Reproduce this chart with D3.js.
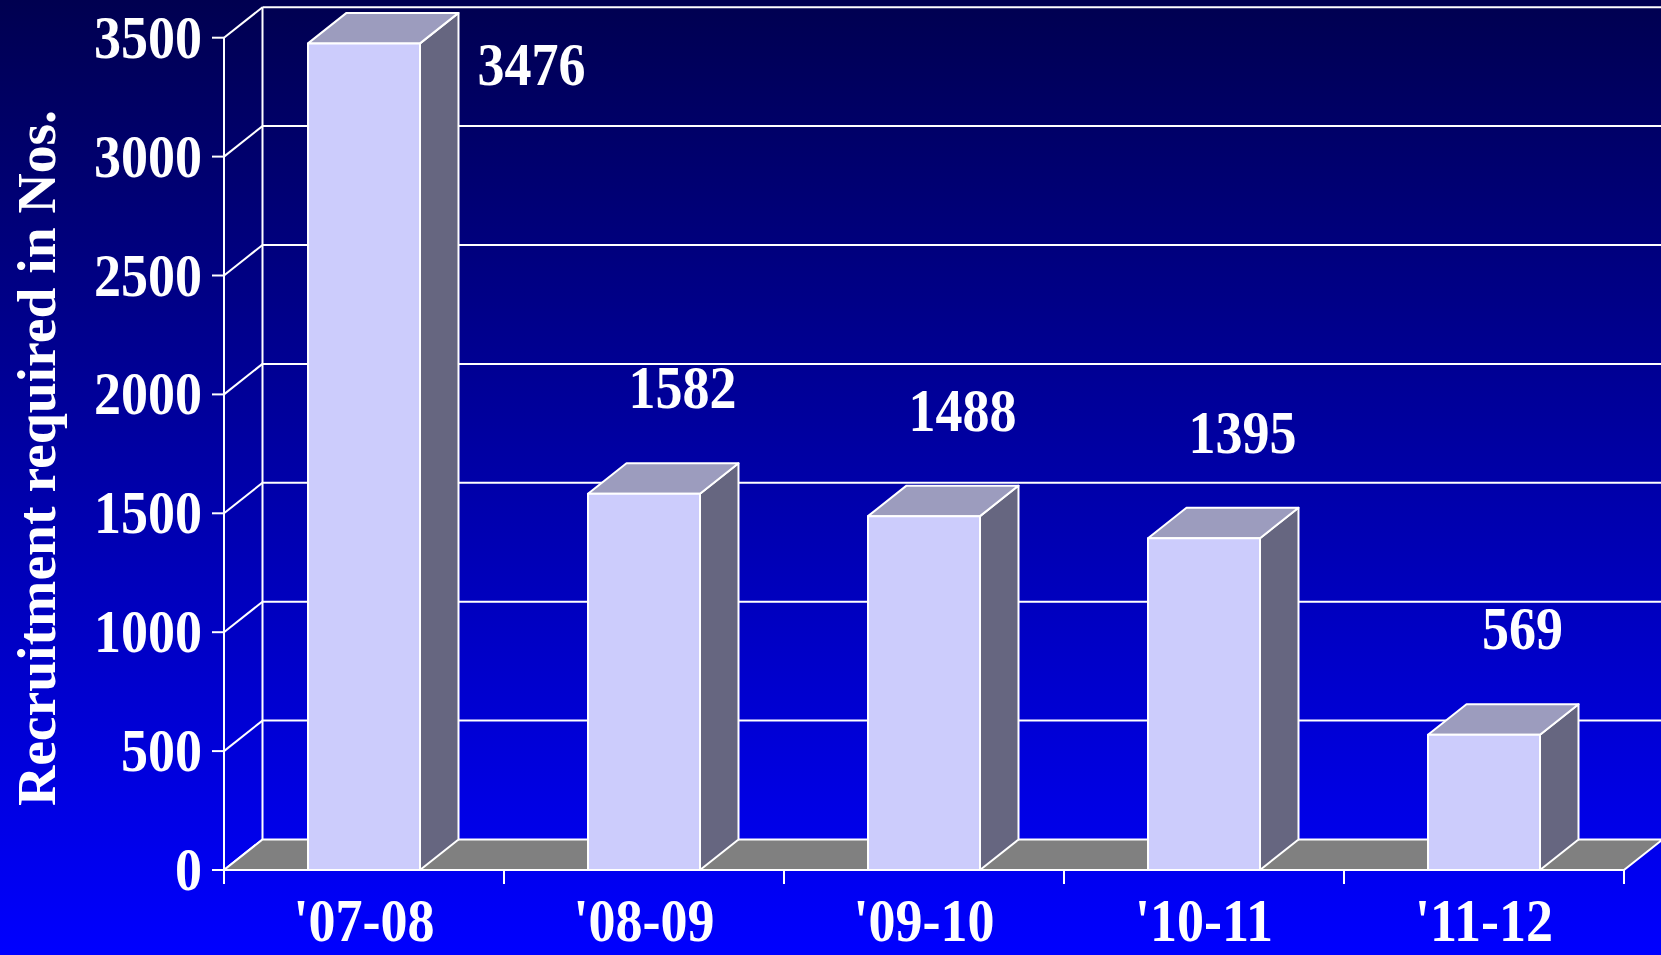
<!DOCTYPE html>
<html>
<head>
<meta charset="utf-8">
<script src="https://cdn.jsdelivr.net/npm/d3@7"></script>
<style>
  html, body { margin: 0; padding: 0; background: #000080; }
  svg { display: block; }
</style>
</head>
<body>
<script>
// Recruitment requirement by financial year
const categories = ["'07-08", "'08-09", "'09-10", "'10-11", "'11-12"];
const values = [3476, 1582, 1488, 1395, 569];
const yTicks = [0, 500, 1000, 1500, 2000, 2500, 3000, 3500];
const yTitle = "Recruitment required in Nos.";

const W = 1661, H = 955;
const FONT = "'Liberation Serif', 'Times New Roman', serif";
const STRETCH = 1.13;          // glyphs are drawn taller than wide
const DX = 38.5, DY = -30.5;   // oblique depth of the 3-D box

const svg = d3.select("body").append("svg")
  .attr("width", W).attr("height", H);

const defs = svg.append("defs");
const grad = defs.append("linearGradient")
  .attr("id", "bg").attr("x1", 0).attr("y1", 0).attr("x2", 0).attr("y2", 1);
grad.append("stop").attr("offset", "0%").attr("stop-color", "#000050");
grad.append("stop").attr("offset", "100%").attr("stop-color", "#0000ff");
svg.append("rect").attr("width", W).attr("height", H).attr("fill", "url(#bg)");

const x = d3.scaleBand().domain(categories)
  .range([224, 1624]).paddingInner(0.6).paddingOuter(0.3);
const y = d3.scaleLinear().domain([0, 3500]).range([870, 37.7]);

const x0 = 224, x1 = 1624;
const line = (g, pts) => g.append("path")
  .attr("d", d3.line()(pts))
  .attr("fill", "none").attr("stroke", "#fff").attr("stroke-width", 2);

// Back wall grid lines and side-wall diagonals
const walls = svg.append("g");
yTicks.forEach(t => {
  if (t > 0) line(walls, [[x0 + DX, y(t) + DY], [W + 5, y(t) + DY]]);
  line(walls, [[x0, y(t)], [x0 + DX, y(t) + DY]]);
});
line(walls, [[x0 + DX, y(3500) + DY], [x0 + DX, y(0) + DY]]);

// Floor
svg.append("path")
  .attr("d", d3.line()([[x0, y(0)], [x1, y(0)], [x1 + DX, y(0) + DY], [x0 + DX, y(0) + DY]]) + "Z")
  .attr("fill", "#808080").attr("stroke", "#fff").attr("stroke-width", 2)
  .attr("stroke-linejoin", "round");

// Bars
const bars = svg.append("g").selectAll("g").data(values).join("g");
const bw = x.bandwidth();
bars.each(function (v, i) {
  const g = d3.select(this);
  const l = x(categories[i]), r = l + bw, t = y(v), b = y(0);
  const poly = (pts, fill) => g.append("path")
    .attr("d", d3.line()(pts) + "Z")
    .attr("fill", fill).attr("stroke", "#fff").attr("stroke-width", 2)
    .attr("stroke-linejoin", "round");
  poly([[r, b], [r + DX, b + DY], [r + DX, t + DY], [r, t]], "#666680");
  poly([[l, t], [r, t], [r + DX, t + DY], [l + DX, t + DY]], "#9c9cbe");
  poly([[l, b], [r, b], [r, t], [l, t]], "#ccccfc");
});

// Front axes
const axes = svg.append("g");
line(axes, [[x0, y(3500)], [x0, y(0) + 14]]);
line(axes, [[x0, y(0)], [x1, y(0)]]);
yTicks.forEach(t => line(axes, [[x0 - 12, y(t)], [x0, y(t)]]));
[...categories.map(c => x(c) - x.step() * x.paddingInner() / 2), x1]
  .forEach(px => line(axes, [[px, y(0)], [px, y(0) + 14]]));

// Text helper: stretched bold serif
function label(txt, px, py, anchor, rotate, stretch = STRETCH) {
  const tr = rotate
    ? `translate(${px},${py}) rotate(-90) scale(${stretch},1)`
    : `translate(${px},${py}) scale(1,${stretch})`;
  return svg.append("text").text(txt)
    .attr("transform", tr)
    .attr("text-anchor", anchor)
    .attr("font-family", FONT).attr("font-weight", "bold")
    .attr("font-size", 54).attr("fill", "#fff");
}

yTicks.forEach(t => label(String(t), 202, y(t) + 20, "end"));
categories.forEach(c => label(c, x(c) + bw / 2, 941, "middle"));
label(yTitle, 55, 458, "middle", true, 1.03);

// Value labels sit above each box; if there is no room, beside it
values.forEach((v, i) => {
  const l = x(categories[i]);
  const top = y(v) + DY - 55;
  if (top - 45 < 0) {
    label(String(v), l + bw + DX + 73, y(v) + 42, "middle");
  } else {
    label(String(v), l + bw / 2 + DX, top, "middle");
  }
});
</script>
</body>
</html>
